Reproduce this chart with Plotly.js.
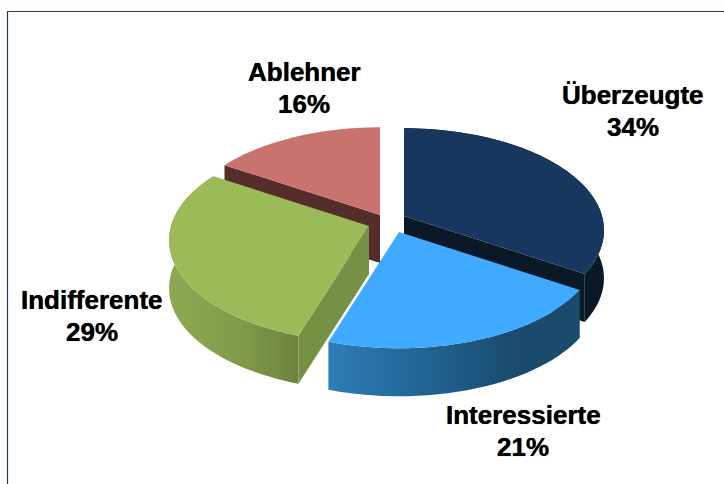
<!DOCTYPE html>
<html>
<head>
<meta charset="utf-8">
<script src="https://cdn.plot.ly/plotly-3.0.1.min.js"></script>
<style>html,body{margin:0;padding:0;background:#fff;overflow:hidden}#chart{width:724px;height:484px}</style>
</head>
<body>
<div id="chart"></div>
<script>
// Data
var categories = ['Überzeugte', 'Interessierte', 'Indifferente', 'Ablehner'];
var shares = [34, 21, 29, 16];

// Style and layout for each slice
var topColors = ['#17375E', '#3FAAFF', '#9BBB59', '#C9736F'];
var faceColors = ['#0A1828', null, '#769044', '#552E2C'];
var sideScales = [
  [[0, '#0A1828'], [1, '#0A1828']],
  [[0, '#2F7DB8'], [0.45, '#1F5F8C'], [0.75, '#1A4A6C'], [1, '#1A4A6C']],
  [[0, '#8DA952'], [0.6, '#80994A'], [1, '#6C823D']],
  [[0, '#552E2C'], [1, '#552E2C']]
];
var apexX = [404, 399, 369, 380];
var apexY = [216, 232, 226, 215];
var labelX = [633, 523, 92, 304];
var labelY = [95, 415, 300, 72];
var drawOrder = [3, 0, 2, 1];

// Projection of the tilted pie
var A = 198, B = 100, K = 0.14, DEPTH = 48, STEPS = 60;
function project(i, deg, h) {
  var t = deg * Math.PI / 180;
  var s = 1 / (1 + K * Math.cos(t));
  return [apexX[i] + A * Math.sin(t) * s, apexY[i] - B * Math.cos(t) * s + h];
}
function arc(i, a0, a1, h) {
  var pts = [];
  for (var k = 0; k <= STEPS; k++) pts.push(project(i, a0 + (a1 - a0) * k / STEPS, h));
  return pts;
}
function poly(pts, color, scale) {
  var tr = {
    type: 'scatter', mode: 'none', fill: 'toself', hoverinfo: 'skip', showlegend: false,
    x: pts.map(function (p) { return p[0]; }),
    y: pts.map(function (p) { return p[1]; }),
    fillcolor: color
  };
  if (scale) tr.fillgradient = { type: 'horizontal', colorscale: scale };
  return tr;
}

var total = shares.reduce(function (a, b) { return a + b; }, 0);
var starts = [], ends = [], run = 0;
shares.forEach(function (v) {
  starts.push(run / total * 360);
  run += v;
  ends.push(run / total * 360);
});

var traces = [];
drawOrder.forEach(function (i) {
  var a0 = starts[i], a1 = ends[i];
  // visible cut face: the trailing edge of the first slice, the leading edge of the others
  if (faceColors[i]) {
    var faceAngle = (i === 0) ? a1 : a0;
    var c0 = [apexX[i], apexY[i]];
    var c1 = [apexX[i], apexY[i] + DEPTH];
    traces.push(poly([c0, project(i, faceAngle, 0), project(i, faceAngle, DEPTH), c1], faceColors[i]));
  }
  // outer wall
  var wall = arc(i, a0, a1, 0).concat(arc(i, a1, a0, DEPTH));
  if (i !== 3) traces.push(poly(wall, sideScales[i][0][1], sideScales[i]));
  // top
  traces.push(poly([[apexX[i], apexY[i]]].concat(arc(i, a0, a1, 0)), topColors[i]));
});

var annotations = [];
categories.forEach(function (c, i) {
  [c, shares[i] + '%'].forEach(function (txt, j) {
    annotations.push({
      x: labelX[i], y: labelY[i] + j * 32, xref: 'x', yref: 'y',
      text: txt, showarrow: false, xanchor: 'center', yanchor: 'middle',
      font: { family: 'Liberation Sans, Arial, sans-serif', size: 26, color: '#000', weight: 700, shadow: '0 0 0.7px #000' }
    });
  });
});

var layout = {
  width: 724, height: 484,
  margin: { l: 0, r: 0, t: 0, b: 0 },
  paper_bgcolor: '#fff', plot_bgcolor: '#fff',
  showlegend: false, hovermode: false,
  xaxis: { range: [0, 724], visible: false, fixedrange: true },
  yaxis: { range: [484, 0], visible: false, fixedrange: true },
  annotations: annotations,
  shapes: [{
    type: 'rect', xref: 'x', yref: 'y', x0: 7.5, y0: 11.5, x1: 760, y1: 520,
    line: { color: '#1F3A5F', width: 1.2 }, fillcolor: 'rgba(0,0,0,0)', layer: 'below'
  }]
};
Plotly.newPlot('chart', traces, layout, { displayModeBar: false, staticPlot: true });
</script>
</body>
</html>
